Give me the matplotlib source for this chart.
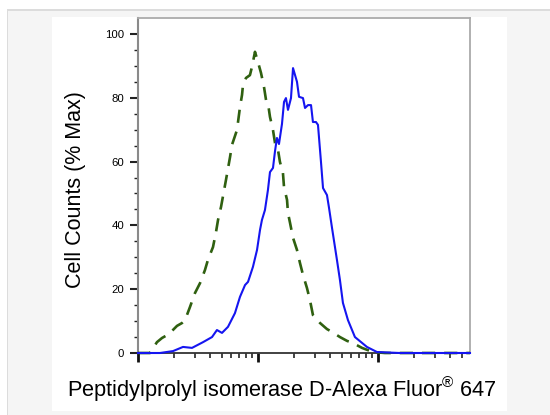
import numpy as np
import matplotlib
matplotlib.use("Agg")
import matplotlib.pyplot as plt
from matplotlib.patches import Rectangle
from matplotlib.ticker import FixedLocator, NullFormatter, LogLocator

plt.rcParams['font.family'] = ['Liberation Sans', 'DejaVu Sans']
plt.rcParams['mathtext.fontset'] = 'custom'
plt.rcParams['mathtext.rm'] = 'Liberation Sans'

# ---- data (log10 fluorescence intensity, % of max) ----
sample_log = [0.000, 0.183, 0.292, 0.375, 0.450, 0.542, 0.617, 0.658, 0.700, 0.750,
              0.808, 0.850, 0.892, 0.917, 0.958, 0.992, 1.017, 1.033, 1.058, 1.083,
              1.100, 1.125, 1.142, 1.158, 1.175, 1.200, 1.217, 1.233, 1.250, 1.275,
              1.292, 1.325, 1.342, 1.375, 1.392, 1.417, 1.442, 1.458, 1.483, 1.500,
              1.525, 1.542, 1.575, 1.592, 1.617, 1.658, 1.683, 1.708, 1.750, 1.808,
              1.908, 1.992, 2.183, 2.767]
sample_pct = [0.0, 0.0, 0.6, 1.9, 1.6, 3.4, 5.0, 7.2, 6.3, 8.2,
              12.5, 17.6, 21.3, 22.3, 27.0, 32.3, 38.6, 41.7, 44.8, 51.1,
              56.7, 58.0, 63.3, 67.4, 65.5, 71.8, 78.7, 79.9, 76.2, 79.9,
              89.3, 85.0, 80.3, 79.9, 76.8, 77.7, 77.7, 72.4, 72.4, 71.5,
              59.9, 51.7, 49.5, 45.5, 39.2, 29.2, 22.9, 15.7, 10.3, 5.0,
              1.9, 0.3, 0.0, 0.0]

control_log = [0.000, 0.100, 0.158, 0.200, 0.242, 0.283, 0.325, 0.367, 0.392, 0.433,
               0.475, 0.517, 0.558, 0.583, 0.625, 0.650, 0.667, 0.692, 0.733, 0.767,
               0.783, 0.825, 0.850, 0.867, 0.875, 0.900, 0.933, 0.950, 0.975, 1.000,
               1.025, 1.050, 1.067, 1.083, 1.100, 1.125, 1.142, 1.167, 1.183, 1.208,
               1.217, 1.242, 1.250, 1.267, 1.292, 1.325, 1.350, 1.375, 1.408, 1.433,
               1.458, 1.517, 1.575, 1.617, 1.683, 1.742, 1.792, 1.867, 1.958, 2.058,
               2.767]
control_pct = [0.0, 0.0, 3.4, 4.7, 5.6, 6.9, 8.5, 9.4, 10.3, 14.4,
               18.8, 21.9, 26.0, 29.2, 33.2, 37.9, 41.7, 45.8, 54.2, 61.4,
               65.2, 69.9, 77.1, 80.9, 84.0, 86.2, 87.1, 89.7, 94.4, 91.2,
               87.8, 83.4, 79.3, 78.4, 74.0, 69.9, 65.8, 63.6, 59.9, 56.4,
               52.0, 48.0, 43.9, 40.8, 36.1, 32.3, 28.2, 24.5, 20.4, 16.6,
               11.9, 9.4, 7.5, 6.6, 5.0, 3.8, 3.1, 1.6, 0.3, 0.0,
               0.0]

y_ticks = [0, 20, 40, 60, 80, 100]
y_minor = [5, 10, 15, 25, 30, 35, 45, 50, 55, 65, 70, 75, 85, 90, 95]
x_label = "Peptidylprolyl isomerase D-Alexa Fluor$^{®}$ 647"
y_label = "Cell Counts (% Max)"

W, H = 550, 415
fig = plt.figure(figsize=(W / 100, H / 100), dpi=100)
fig.patch.set_facecolor('white')

def px_rect(x0, y0, x1, y1, color):
    fig.patches.append(Rectangle((x0 / W, 1 - y1 / H), (x1 - x0) / W, (y1 - y0) / H,
                                 transform=fig.transFigure, facecolor=color,
                                 edgecolor='none', zorder=-10))

px_rect(7, 9, 550, 415, '#dcdcdc')
px_rect(8, 11, 550, 415, '#f5f5f5')
px_rect(52, 17, 507, 411, 'white')

ax = fig.add_axes([138 / W, 1 - 353 / H, (470 - 138) / W, (353 - 18) / H])
ax.set_facecolor('white')

ax.plot(np.power(10.0, control_log), control_pct, color='#2f6010', lw=1.9,
        dashes=(5.0, 3.4), zorder=3, clip_on=False)
ax.plot(np.power(10.0, sample_log), sample_pct, color='#1515f0', lw=1.5,
        zorder=4, clip_on=False)

ax.set_xscale('log')
ax.set_xlim(1, 10 ** 2.767)
ax.set_ylim(0, 105)

ax.xaxis.set_major_locator(FixedLocator([1, 10, 100]))
ax.xaxis.set_minor_locator(LogLocator(base=10, subs=np.arange(2, 10), numticks=20))
ax.xaxis.set_major_formatter(NullFormatter())
ax.xaxis.set_minor_formatter(NullFormatter())
ax.yaxis.set_major_locator(FixedLocator(y_ticks))
ax.yaxis.set_minor_locator(FixedLocator(y_minor))
ax.set_yticklabels([str(v) for v in y_ticks])

ax.tick_params(axis='x', which='major', length=6.5, width=2.0, color='#111')
ax.tick_params(axis='x', which='minor', length=3.6, width=1.1, color='#111')
ax.tick_params(axis='y', which='major', length=5.5, width=1.5, color='#222',
               labelsize=8.2, pad=4.5)
ax.tick_params(axis='y', which='minor', length=3.0, width=1.0, color='#222')

for s in ['top', 'right']:
    ax.spines[s].set_color('#aaaaaa')
    ax.spines[s].set_linewidth(1.3)
ax.spines['left'].set_color('#8a8a8a')
ax.spines['left'].set_linewidth(1.5)
ax.spines['bottom'].set_color('#333333')
ax.spines['bottom'].set_linewidth(1.3)

fig.text(282 / W, 1 - 397 / H, x_label, ha='center', va='baseline', fontsize=15.7)
fig.text(75 / W, 1 - 190 / H, y_label, ha='center', va='center', rotation=90,
         fontsize=15.5)

fig.savefig('out.png', dpi=100)
